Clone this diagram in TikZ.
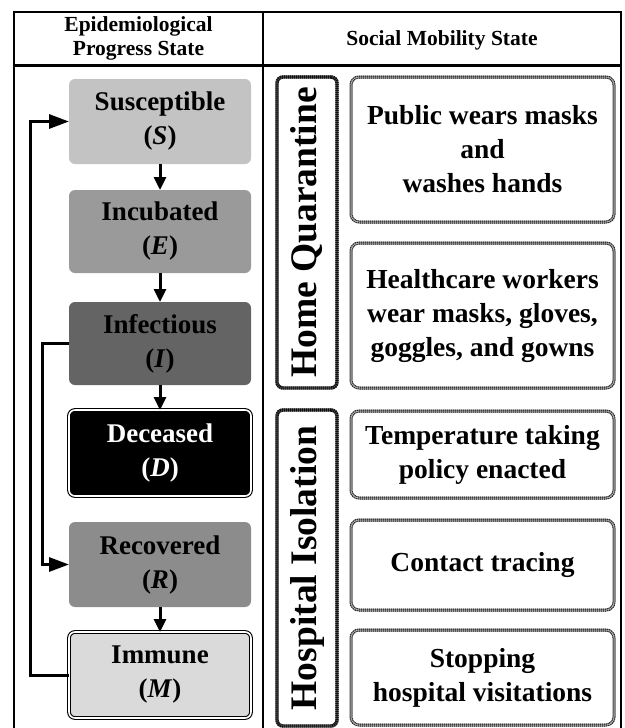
\documentclass[tikz,border=0pt]{standalone}
\usepackage{fontspec}
\setmainfont{Liberation Serif}
\usetikzlibrary{arrows.meta}
\definecolor{cS}{HTML}{C3C3C3}
\definecolor{cE}{HTML}{9A9A9A}
\definecolor{cI}{HTML}{646464}
\definecolor{cR}{HTML}{8C8C8C}
\definecolor{cM}{HTML}{DADADA}
\begin{document}
\begin{tikzpicture}[x=1pt,y=-1pt,
  every node/.style={inner sep=0pt, outer sep=0pt},
  tline/.style={line width=2.6pt, draw=black},
  state/.style={rectangle, rounded corners=6pt, minimum width=182pt, align=center,
    font=\fontsize{27}{34}\selectfont\bfseries},
  dbl/.style={draw=black, double=white, double distance=1.6pt, line width=1.1pt},
  beadsl/.style={rectangle, rounded corners=8pt, draw=black!50, line width=3pt,
    postaction={draw=black!85, line width=3pt, dash pattern=on 0.9pt off 1.1pt},
    postaction={draw=black!20, line width=0.5pt}},
  beadsd/.style={rectangle, rounded corners=6pt, draw=black!70, line width=3.4pt,
    postaction={draw=black!95, line width=3.4pt, dash pattern=on 0.9pt off 1.1pt}},
  act/.style={beadsl, minimum width=263pt, align=center,
    font=\fontsize{27.5}{34}\selectfont\bfseries},
  mode/.style={beadsd, minimum width=60pt},
  modetext/.style={rotate=90, font=\fontsize{37.5}{40}\selectfont\bfseries},
  hdr/.style={align=center, font=\fontsize{21.5}{24}\selectfont\bfseries},
  flow/.style={line width=3pt, -{Triangle[length=13pt,width=12pt]}},
  back/.style={line width=3pt, -{Triangle[length=20pt,width=14pt]}}]
\useasboundingbox (0,0) rectangle (624,728);
% table
\draw[tline] (14,729) -- (14,12) -- (621,12) -- (621,729);
\draw[tline] (14,65.5) -- (621,65.5);
\draw[tline] (263,12) -- (263,729);
\node[hdr] (h1) at (138.5,38) {Epidemiological\\Progress State};
\node[hdr] (h2) at (442,40) {Social Mobility State};
% left states
\node[state, fill=cS, minimum height=85pt] (S) at (160,121.5) {Susceptible\\(\textit{S})};
\node[state, fill=cE, minimum height=83pt] (E) at (160,231.5) {Incubated\\(\textit{E})};
\node[state, fill=cI, minimum height=83pt] (I) at (160,343.5) {Infectious\\(\textit{I})};
\node[state, dbl, fill=black, text=white, minimum height=86pt] (D) at (160,453) {Deceased\\(\textit{D})};
\node[state, fill=cR, minimum height=85pt] (R) at (160,564.5) {Recovered\\(\textit{R})};
\node[state, dbl, fill=cM, minimum height=86pt] (M) at (160,675) {Immune\\(\textit{M})};
\draw[flow] (S) -- (E);
\draw[flow] (E) -- (I);
\draw[flow] (I) -- (D);
\draw[flow] (R) -- (M);
\draw[back] (M.west) -- ++(-39,0) |- (S.west);
\draw[back] (I.west) -- ++(-27,0) |- (R.west);
% right side
\node[mode, minimum height=311pt] (HQ) at (307,232.5) {};
\node[modetext] (HQt) at (HQ.center) {Home Quarantine};
\node[mode, minimum height=316pt] (HI) at (307,568) {};
\node[modetext] (HIt) at (HI.center) {Hospital Isolation};
\node[act, minimum height=145pt] (A1) at (482.5,149.5) {Public wears masks\\and\\washes hands};
\node[act, minimum height=145pt] (A2) at (482.5,315.5) {Healthcare workers\\wear masks, gloves,\\goggles, and gowns};
\node[act, minimum height=87pt] (A3) at (482.5,454.5) {Temperature taking\\policy enacted};
\node[act, minimum height=90pt] (A4) at (482.5,565) {Contact tracing};
\node[act, minimum height=95pt] (A5) at (482.5,677.5) {Stopping\\hospital visitations};
\end{tikzpicture}
\end{document}
